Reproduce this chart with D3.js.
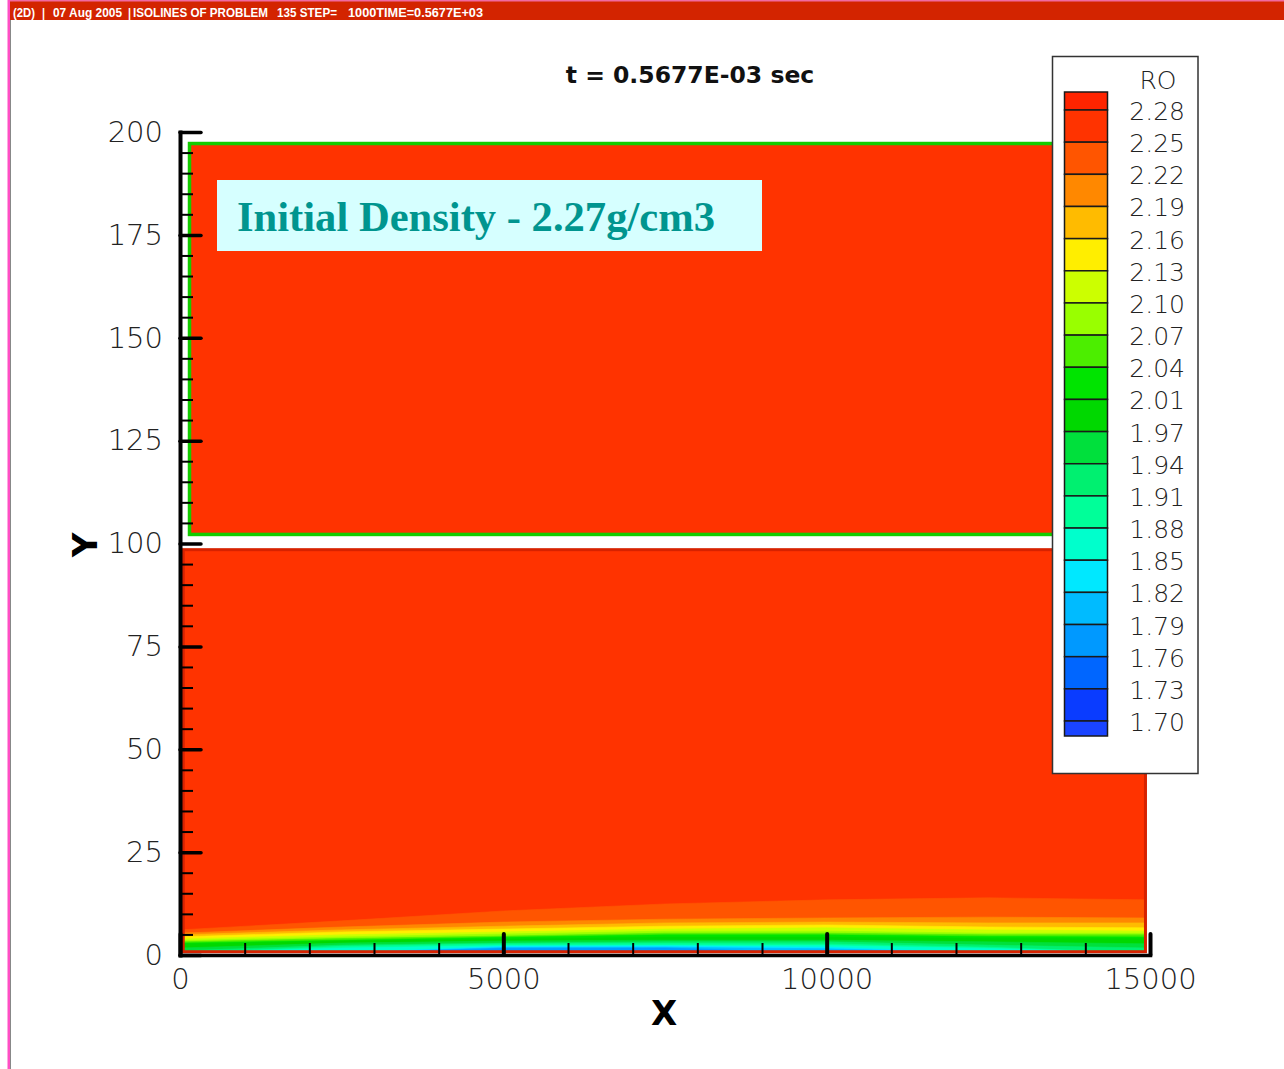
<!DOCTYPE html>
<html><head><meta charset="utf-8">
<script src="https://cdn.jsdelivr.net/npm/d3@7"></script>
<style>body{margin:0;background:#fff}svg{display:block}</style>
</head><body>
<script>
// ---------------- data ----------------
const legendLabels = ["2.28","2.25","2.22","2.19","2.16","2.13","2.10","2.07","2.04","2.01",
  "1.97","1.94","1.91","1.88","1.85","1.82","1.79","1.76","1.73","1.70"];
// band colours, from the band above 2.28 down to the band below 1.70
const legendColors = ["#ff2400","#ff3300","#ff5500","#ff8800","#ffbb00","#ffee00","#ccff00","#99ff00",
  "#4cee00","#00e400","#00d800","#00e03c","#00f070","#00ff99","#00ffcc","#00e8ff","#00bbff",
  "#0099ff","#0066ff","#0a3cff","#1a44ff"];
const xTicksMajor = [0, 5000, 10000, 15000];
const yTicksMajor = [0, 25, 50, 75, 100, 125, 150, 175, 200];
// blocks (data coordinates)
const lowerBlock = [50, 14930, 0.8, 98.5];     // x0, x1, y0, y1
const upperBlock = [147, 14930, 102.2, 197.2]; // x0, x1, y0, y1
const blockDensity = 2.27;
// contour boundaries near the bottom of the lower block
const xStations = [0, 2500, 5000, 7500, 10000, 12500, 15000];
const contourLevels = [2.25, 2.22, 2.19, 2.16, 2.13, 2.10, 2.07, 2.04, 2.01, 1.97, 1.94, 1.91, 1.88, 1.85, 1.82, 1.79];
const contourHeights = [
  [6.1, 8.3, 10.7, 12.4, 13.4, 13.9, 13.4],  // 2.25
  [5.3, 6.8, 8.0, 8.7, 9.0, 9.2, 9.0],       // 2.22
  [4.9, 6.1, 7.0, 7.8, 8.0, 7.8, 7.8],       // 2.19
  [4.4, 5.6, 6.3, 7.0, 7.3, 6.8, 6.6],       // 2.16
  [3.9, 4.9, 5.6, 6.3, 6.6, 6.1, 5.8],       // 2.13
  [3.5, 4.4, 5.1, 5.8, 5.8, 5.3, 5.3],       // 2.10
  [3.2, 4.0, 4.6, 5.3, 5.3, 4.9, 4.9],       // 2.07
  [2.9, 3.6, 4.3, 4.9, 4.9, 4.5, 4.4],       // 2.04
  [2.7, 3.4, 3.9, 4.4, 4.4, 4.1, 4.0],       // 2.01
  [1.7, 2.9, 3.4, 3.6, 3.6, 3.2, 2.7],       // 1.97
  [1.0, 2.4, 2.9, 3.2, 3.2, 2.4, 1.7],       // 1.94
  [0.5, 2.1, 2.7, 2.8, 2.7, 1.9, 0.5],       // 1.91
  [0.5, 1.7, 2.3, 2.4, 2.3, 1.6, 0.5],       // 1.88
  [0.5, 0.5, 2.1, 2.2, 1.9, 0.5, 0.5],       // 1.85
  [0.5, 0.5, 1.8, 1.9, 1.5, 0.5, 0.5],       // 1.82
  [0.5, 0.5, 1.6, 1.7, 0.5, 0.5, 0.5]        // 1.79
];
const titleText = "t = 0.5677E-03 sec";
const noteText = "Initial Density - 2.27g/cm3";
// --------------------------------------

const W = 1284, H = 1069;
const svg = d3.select("body").append("svg").attr("width", W).attr("height", H);

const x = d3.scaleLinear().domain([0, 15000]).range([180, 1150]);
const y = d3.scaleLinear().domain([0, 200]).range([955, 132]);

// colour for a density value (band it falls in)
const labelVals = legendLabels.map(Number);
function bandColor(v) {
  for (let i = 0; i < labelVals.length; i++) if (v >= labelVals[i]) return legendColors[i];
  return legendColors[legendColors.length - 1];
}
function belowColor(level) {
  const i = labelVals.findIndex(l => Math.abs(l - level) < 1e-6);
  return legendColors[i + 1];
}

// header bar
svg.append("rect").attr("x", 8).attr("y", 0).attr("width", W - 8).attr("height", 20).attr("fill", "#d32400");
svg.append("rect").attr("x", 8).attr("y", 0).attr("width", W - 8).attr("height", 1.5).attr("fill", "#f06aa0");
svg.append("rect").attr("x", 7.5).attr("y", 0).attr("width", 2.5).attr("height", H).attr("fill", "#ff4fc4");
svg.append("line").attr("x1", 10.5).attr("x2", 10.5).attr("y1", 20).attr("y2", H).attr("stroke", "#888").attr("stroke-width", 1);
const headerParts = [["(2D)", 13, 22], ["|", 42, 3], ["07 Aug 2005", 53, 69], ["|", 128, 3],
  ["ISOLINES OF PROBLEM", 133, 135], ["135 STEP=", 277, 60], ["1000TIME=0.5677E+03", 348, 135]];
svg.selectAll("text.hdr").data(headerParts).enter().append("text").attr("class", "hdr")
  .attr("x", d => d[1]).attr("y", 16.5).text(d => d[0])
  .attr("textLength", d => d[2]).attr("lengthAdjust", "spacingAndGlyphs")
  .attr("font-family", "Liberation Sans, Arial, sans-serif").attr("font-size", 12).attr("font-weight", "bold")
  .attr("fill", "#fff");

// lower block
const lb = svg.append("g");
lb.append("clipPath").attr("id", "lowClip").append("rect")
  .attr("x", x(lowerBlock[0])).attr("y", y(lowerBlock[3]))
  .attr("width", x(lowerBlock[1]) - x(lowerBlock[0])).attr("height", y(lowerBlock[2]) - y(lowerBlock[3]));
lb.append("rect")
  .attr("x", x(lowerBlock[0])).attr("y", y(lowerBlock[3]))
  .attr("width", x(lowerBlock[1]) - x(lowerBlock[0])).attr("height", y(lowerBlock[2]) - y(lowerBlock[3]))
  .attr("fill", bandColor(blockDensity));
const area = d3.area().x((d, i) => x(xStations[i])).y0(y(0)).y1(d => y(d));
lb.append("g").attr("clip-path", "url(#lowClip)")
  .selectAll("path").data(contourHeights).enter().append("path")
  .attr("d", d => area(d))
  .attr("fill", (d, i) => belowColor(contourLevels[i]))
  .attr("stroke", (d, i) => belowColor(contourLevels[i])).attr("stroke-width", 0.6);
lb.append("rect")
  .attr("x", x(lowerBlock[0])).attr("y", y(lowerBlock[3]))
  .attr("width", x(lowerBlock[1]) - x(lowerBlock[0])).attr("height", y(lowerBlock[2]) - y(lowerBlock[3]))
  .attr("fill", "none").attr("stroke", "#d62200").attr("stroke-width", 3);

// upper block
svg.append("rect")
  .attr("x", x(upperBlock[0])).attr("y", y(upperBlock[3]))
  .attr("width", x(upperBlock[1]) - x(upperBlock[0])).attr("height", y(upperBlock[2]) - y(upperBlock[3]))
  .attr("fill", bandColor(blockDensity)).attr("stroke", "#14cc00").attr("stroke-width", 3.5);

// annotation box
svg.append("rect").attr("x", 217).attr("y", 180).attr("width", 545).attr("height", 71).attr("fill", "#d6ffff");
svg.append("text").attr("x", 237).attr("y", 231).text(noteText)
  .attr("font-family", "Liberation Serif, 'Times New Roman', serif").attr("font-weight", "bold")
  .attr("font-size", 42.6).attr("fill", "#00958f");

// title
svg.append("text").attr("x", 690).attr("y", 83).attr("text-anchor", "middle").text(titleText)
  .attr("font-family", "DejaVu Sans, sans-serif").attr("font-weight", "bold").attr("font-size", 23.5).attr("fill", "#111");

// legend
const lg = svg.append("g");
lg.append("rect").attr("x", 1052.5).attr("y", 56.5).attr("width", 145.5).attr("height", 717)
  .attr("fill", "#fff").attr("stroke", "#333").attr("stroke-width", 1.5);
const ly = d3.scaleLinear().domain([0, legendLabels.length - 1]).range([110, 721]);
const bandEdges = [92].concat(legendLabels.map((l, i) => ly(i))).concat([736]);
lg.selectAll("rect.sw").data(legendColors).enter().append("rect").attr("class", "sw")
  .attr("x", 1064.5).attr("width", 43).attr("y", (d, i) => bandEdges[i])
  .attr("height", (d, i) => bandEdges[i + 1] - bandEdges[i])
  .attr("fill", d => d).attr("stroke", "#1a1a1a").attr("stroke-width", 1.5);
lg.selectAll("text.lab").data(legendLabels).enter().append("text").attr("class", "lab")
  .attr("x", 1185).attr("y", (d, i) => ly(i) + 1).attr("dy", "0.36em").attr("text-anchor", "end").text(d => d)
  .attr("font-family", "DejaVu Sans, sans-serif").attr("font-size", 25).attr("font-weight", 300).attr("fill", "#222");
lg.append("text").attr("x", 1158).attr("y", 80).attr("dy", "0.36em").attr("text-anchor", "middle").text("RO")
  .attr("font-family", "DejaVu Sans, sans-serif").attr("font-size", 25).attr("font-weight", 300).attr("fill", "#222");

// axes
const fontAxis = "DejaVu Sans, sans-serif";
const xMinor = d3.range(0, 15001, 1000).filter(v => v % 5000 !== 0);
const yMinor = d3.range(0, 201, 5).filter(v => v % 25 !== 0);

const gxMinor = svg.append("g").attr("transform", `translate(0,${y(0)})`)
  .call(d3.axisBottom(x).tickValues(xMinor).tickSize(-12).tickSizeOuter(0).tickFormat(""));
gxMinor.select(".domain").remove();
gxMinor.selectAll("line").attr("stroke", "#000").attr("stroke-width", 2);

const gyMinor = svg.append("g").attr("transform", `translate(${x(0)},0)`)
  .call(d3.axisLeft(y).tickValues(yMinor).tickSize(-13).tickSizeOuter(0).tickFormat(""));
gyMinor.select(".domain").remove();
gyMinor.selectAll("line").attr("stroke", "#000").attr("stroke-width", 2);

const gx = svg.append("g").attr("transform", `translate(0,${y(0)})`)
  .call(d3.axisBottom(x).tickValues(xTicksMajor).tickSize(-21).tickSizeOuter(0).tickPadding(13).tickFormat(d3.format("d")));
gx.select(".domain").attr("stroke", "#000").attr("stroke-width", 3.5).attr("stroke-linecap", "square");
gx.selectAll(".tick line").attr("stroke", "#000").attr("stroke-width", 4).attr("stroke-linecap", "round");
gx.selectAll("text").attr("font-family", fontAxis).attr("font-size", 29).attr("font-weight", 300).attr("fill", "#222");

const gy = svg.append("g").attr("transform", `translate(${x(0)},0)`)
  .call(d3.axisLeft(y).tickValues(yTicksMajor).tickSize(-21).tickSizeOuter(0).tickPadding(17).tickFormat(d3.format("d")));
gy.select(".domain").attr("stroke", "#000").attr("stroke-width", 4).attr("stroke-linecap", "square");
gy.selectAll(".tick line").attr("stroke", "#000").attr("stroke-width", 3.5).attr("stroke-linecap", "round");
gy.selectAll("text").attr("font-family", fontAxis).attr("font-size", 29).attr("font-weight", 300).attr("fill", "#222");

// axis titles
svg.append("text").attr("x", 664).attr("y", 1025).attr("text-anchor", "middle").text("X")
  .attr("font-family", "DejaVu Sans, sans-serif").attr("font-weight", "bold").attr("font-size", 34).attr("fill", "#000");
svg.append("text").attr("transform", "translate(97,545) rotate(-90)").attr("text-anchor", "middle").text("Y")
  .attr("font-family", "DejaVu Sans, sans-serif").attr("font-weight", "bold").attr("font-size", 34).attr("fill", "#000");
</script>
</body></html>
